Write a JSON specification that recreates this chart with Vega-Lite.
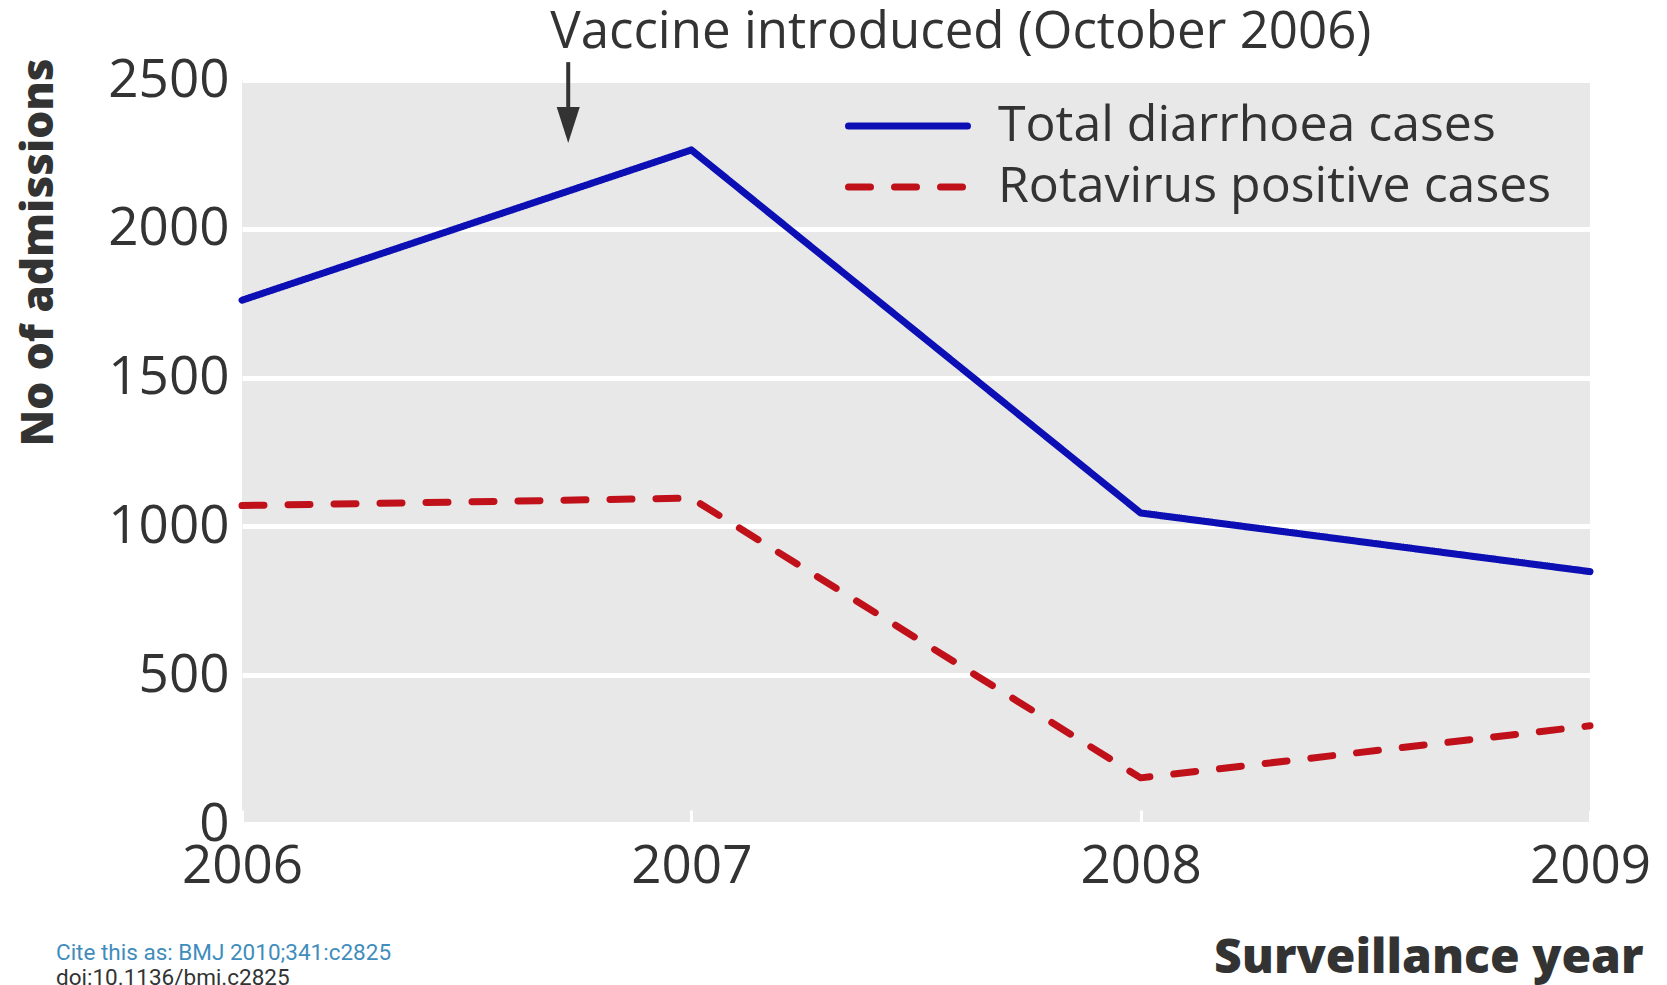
{
  "$schema": "https://vega.github.io/schema/vega-lite/v6.json",
  "width": 1348,
  "height": 744,
  "autosize": {"type": "none"},
  "padding": {"left": 242, "top": 80, "right": 77, "bottom": 161},
  "background": "white",
  "config": {
    "view": {"fill": "#e8e8e8", "stroke": null},
    "font": "Open Sans",
    "legend": {
      "orient": "none",
      "legendX": 603,
      "legendY": 0,
      "padding": 0,
      "title": null,
      "symbolType": "stroke",
      "symbolSize": 14161,
      "symbolStrokeWidth": 7,
      "labelFontSize": 50,
      "labelColor": "#333333",
      "labelOffset": 27,
      "labelLimit": 800,
      "rowPadding": 0
    }
  },
  "title": {
    "text": "Cite this as: BMJ 2010;341:c2825",
    "subtitle": "doi:10.1136/bmj.c2825",
    "orient": "bottom",
    "anchor": "start",
    "frame": "group",
    "offset": -40,
    "dx": -186,
    "font": "Roboto",
    "fontSize": 22.5,
    "fontWeight": "normal",
    "color": "#3f8dbc",
    "subtitleFont": "Roboto",
    "subtitleFontSize": 22.5,
    "subtitleColor": "#333333",
    "subtitlePadding": 2
  },
  "layer": [
    {
      "data": {
        "values": [
          {"year": 2006, "series": "Total diarrhoea cases", "admissions": 1760},
          {"year": 2007, "series": "Total diarrhoea cases", "admissions": 2265},
          {"year": 2008, "series": "Total diarrhoea cases", "admissions": 1045},
          {"year": 2009, "series": "Total diarrhoea cases", "admissions": 848},
          {"year": 2006, "series": "Rotavirus positive cases", "admissions": 1070},
          {"year": 2007, "series": "Rotavirus positive cases", "admissions": 1095},
          {"year": 2008, "series": "Rotavirus positive cases", "admissions": 155},
          {"year": 2009, "series": "Rotavirus positive cases", "admissions": 330}
        ]
      },
      "mark": {"type": "line", "strokeWidth": 7, "strokeCap": "round", "strokeJoin": "round"},
      "encoding": {
        "x": {
          "field": "year",
          "type": "quantitative",
          "scale": {"domain": [2006, 2009], "nice": false, "zero": false},
          "axis": {
            "values": [2006, 2007, 2008, 2009],
            "format": "d",
            "labelFontSize": 53,
            "labelColor": "#333333",
            "labelFlush": false,
            "labelOverlap": false,
            "labelPadding": 30,
            "domain": false,
            "grid": false,
            "tickColor": "white",
            "tickWidth": 3,
            "tickSize": -14,
            "title": "Surveillance year",
            "titleFont": "Open Sans",
            "titleFontSize": 48,
            "titleFontWeight": 800,
            "titleColor": "#333333",
            "titleX": 1401,
            "titleY": 148,
            "titleAlign": "right",
            "titleBaseline": "alphabetic"
          }
        },
        "y": {
          "field": "admissions",
          "type": "quantitative",
          "scale": {"domain": [0, 2500], "nice": false},
          "axis": {
            "values": [0, 500, 1000, 1500, 2000, 2500],
            "format": "d",
            "labelFontSize": 53,
            "labelColor": "#333333",
            "labelPadding": 13,
            "domain": false,
            "ticks": false,
            "grid": true,
            "gridColor": "white",
            "gridWidth": 5,
            "title": "No of admissions",
            "titleFont": "Open Sans",
            "titleFontSize": 44,
            "titleFontWeight": 800,
            "titleColor": "#333333",
            "titleX": -190,
            "titleY": -22,
            "titleAlign": "right",
            "titleBaseline": "alphabetic"
          }
        },
        "color": {
          "field": "series",
          "type": "nominal",
          "scale": {
            "domain": ["Total diarrhoea cases", "Rotavirus positive cases"],
            "range": ["#0c0fb4", "#c0111a"]
          },
          "legend": {
            "encode": {
              "symbols": {"update": {"strokeCap": {"value": "round"}, "y": {"signal": "46 - 10 * datum.index"}}},
              "labels": {"update": {"y": {"signal": "46 - 10 * datum.index"}, "baseline": {"value": "middle"}}}
            }
          }
        },
        "strokeDash": {
          "field": "series",
          "type": "nominal",
          "scale": {
            "domain": ["Total diarrhoea cases", "Rotavirus positive cases"],
            "range": [[1, 0], [22, 24]]
          },
          "legend": {
            "encode": {
              "symbols": {"update": {"strokeCap": {"value": "round"}, "y": {"signal": "46 - 10 * datum.index"}}},
              "labels": {"update": {"y": {"signal": "46 - 10 * datum.index"}, "baseline": {"value": "middle"}}}
            }
          }
        }
      }
    },
    {
      "data": {"values": [{"note": "Vaccine introduced (October 2006)"}]},
      "mark": {"type": "text", "align": "left", "baseline": "alphabetic", "fontSize": 51, "color": "#333333"},
      "encoding": {
        "text": {"field": "note"},
        "x": {"datum": 2006.686},
        "y": {"datum": 2608}
      }
    },
    {
      "data": {"values": [{"note": "arrow"}]},
      "mark": {"type": "rule", "strokeWidth": 4, "color": "#333333"},
      "encoding": {
        "x": {"datum": 2006.726},
        "y": {"datum": 2560},
        "y2": {"datum": 2380}
      }
    },
    {
      "data": {"values": [{"note": "arrow"}]},
      "mark": {"type": "point", "shape": "M-0.64,-1L0.64,-1L0,1Z", "size": 1296, "filled": true, "opacity": 1, "color": "#333333", "strokeWidth": 0},
      "encoding": {
        "x": {"datum": 2006.726},
        "y": {"datum": 2349}
      }
    }
  ]
}
